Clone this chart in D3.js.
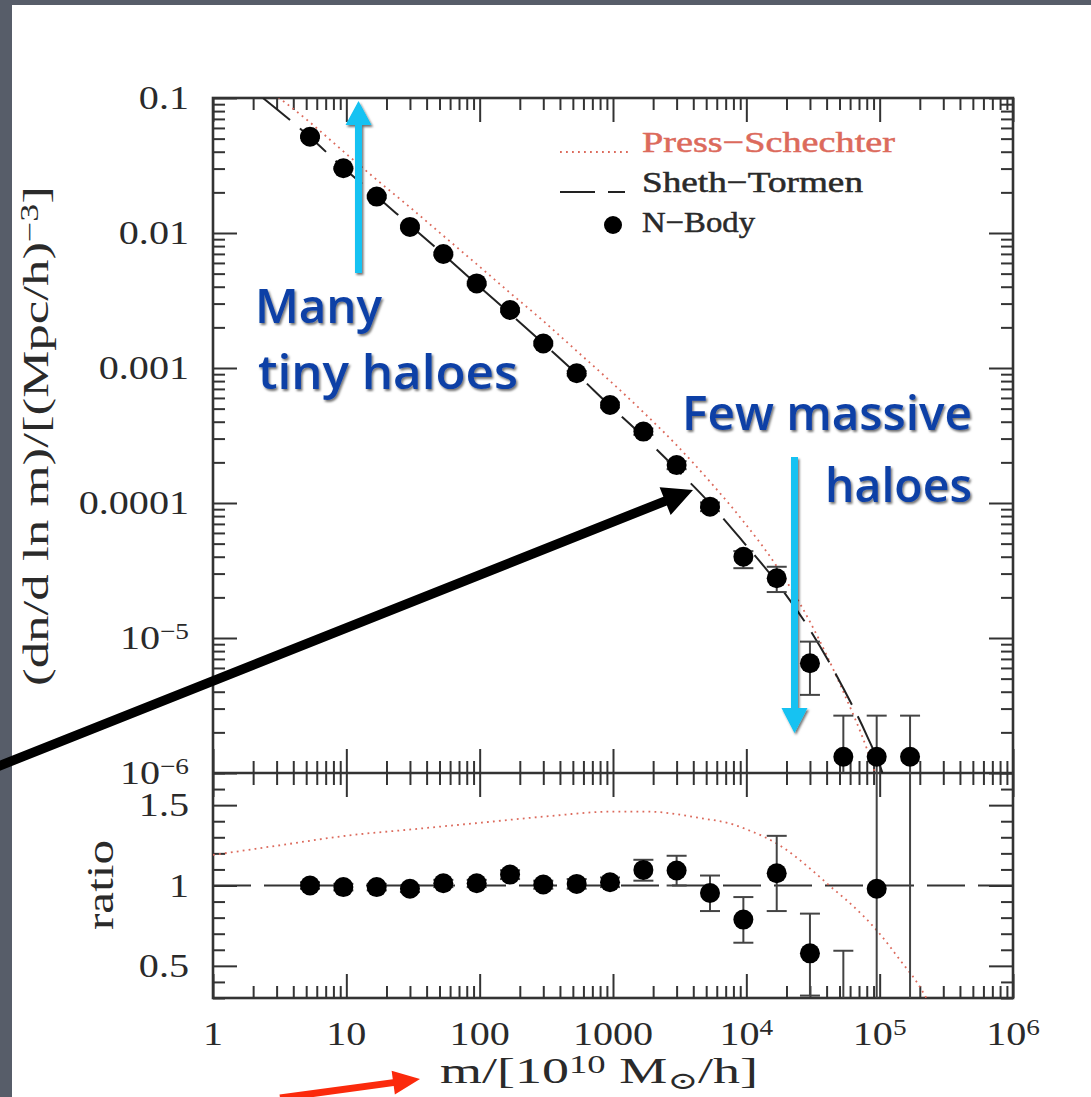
<!DOCTYPE html>
<html>
<head>
<meta charset="utf-8">
<script src="https://cdn.jsdelivr.net/npm/d3@7"></script>
<style>
  html, body { margin: 0; padding: 0; background: #575d69; }
  svg { display: block; }
</style>
</head>
<body>
<svg id="chart" width="1091" height="1097"></svg>
<script>
// ---------------- data ----------------
// halo mass bins (10^10 Msun/h)
const massBins = [5.34, 9.5, 16.9, 30, 53.4, 95, 169, 300, 534, 950, 1690, 3000,
                  5340, 9500, 16900, 30000, 53400, 95000, 169000];

// N-body mass function dn/dlnm and its error range
const nbodyDensity   = [0.0516, 0.0302, 0.0186, 0.0111, 0.00699, 0.00423, 0.00269, 0.00152,
                        0.000914, 0.000532, 0.000338, 0.000191, 9.4e-5, 4.0e-5, 2.77e-5,
                        6.5e-6, 1.32e-6, 1.32e-6, 1.32e-6];
const nbodyDensityLo = [0.0505, 0.0295, 0.0181, 0.0108, 0.0068, 0.0041, 0.0026, 0.00147,
                        0.00088, 0.00051, 0.00032, 0.000178, 8.7e-5, 3.29e-5, 2.19e-5,
                        3.79e-6, 0, 0, 0];
const nbodyDensityHi = [0.0527, 0.0309, 0.0191, 0.0114, 0.0072, 0.00436, 0.00278, 0.00157,
                        0.00095, 0.000555, 0.000356, 0.000204, 1.01e-4, 4.4e-5, 3.37e-5,
                        9.4e-6, 2.66e-6, 2.66e-6, 2.66e-6];

// N-body / Sheth-Tormen ratio and its error range
const nbodyRatio   = [1.0, 0.99, 0.99, 0.98, 1.014, 1.014, 1.068, 1.006, 1.01, 1.02,
                      1.097, 1.093, 0.953, 0.788, 1.076, 0.578, 0.2, 0.98, 4.0];
const nbodyRatioLo = [0.98, 0.97, 0.97, 0.96, 0.99, 0.99, 1.04, 0.98, 0.98, 0.99,
                      1.03, 1.0, 0.841, 0.644, 0.841, 0.315, 0, 0, 0];
const nbodyRatioHi = [1.02, 1.01, 1.01, 1.0, 1.035, 1.035, 1.095, 1.03, 1.04, 1.05,
                      1.16, 1.185, 1.062, 0.928, 1.309, 0.825, 0.594, 2.0, 8.0];

// Sheth-Tormen model
const stMass    = [2.37, 5.3, 9.4, 16.8, 30, 53, 94, 168, 300, 530, 940, 1680, 3000,
                   5300, 9400, 16800, 30000, 53000, 80000, 105000, 125000];
const stDensity = [0.1, 0.0516, 0.0307, 0.0188, 0.0114, 0.0070, 0.00421, 0.00254, 0.00152,
                   0.00091, 0.00053, 0.000312, 0.000178, 1.0e-4, 5.2e-5, 2.6e-5, 1.15e-5,
                   4.3e-6, 1.9e-6, 1.0e-6, 5.5e-7];

// Press-Schechter model
const psMass    = [1, 2.37, 5.3, 9.4, 16.8, 30, 53, 94, 168, 300, 530, 940, 1680, 3000,
                   5300, 9400, 16800, 30000, 53000, 80000, 105000];
const psDensity = [0.25, 0.1245, 0.0664, 0.0406, 0.0249, 0.0155, 0.0096, 0.00593, 0.00362,
                   0.00223, 0.001346, 0.000809, 0.000473, 0.000268, 0.000145, 7.41e-5,
                   3.43e-5, 1.32e-5, 4.06e-6, 1.52e-6, 6.8e-7];

// Press-Schechter / Sheth-Tormen
const ratioMass = [1, 3.16, 10, 31.6, 100, 316, 1000, 1780, 4470, 7940, 10000, 17800,
                   31600, 44700, 56200, 100000, 141000, 200000, 224000];
const psRatio   = [1.19, 1.25, 1.31, 1.35, 1.39, 1.43, 1.46, 1.46, 1.42, 1.38, 1.35, 1.25,
                   1.09, 0.98, 0.91, 0.70, 0.54, 0.37, 0.30];

// axes
const xTickValues   = [1, 10, 100, 1000, 1e4, 1e5, 1e6];
const xTickText     = ["1", "10", "100", "1000", "10^4", "10^5", "10^6"];
const yTopTickValues = [0.1, 0.01, 0.001, 0.0001, 1e-5, 1e-6];
const yTopTickText   = ["0.1", "0.01", "0.001", "0.0001", "10^−5", "10^−6"];
const yBotTickValues = [0.5, 1, 1.5];
const yBotTickText   = ["0.5", "1", "1.5"];
const legendLabels   = ["Press−Schechter", "Sheth−Tormen", "N−Body"];

// ---------------- layout ----------------
const L = 213, R = 1013, TOP = 98, MID = 773, BOT = 998;
const INK = "#333";
const PS_COLOR = "#dc6a5c";
const SERIF = "'Liberation Serif', 'DejaVu Serif', serif";

const x = d3.scaleLog().domain([1, 1e6]).range([L, R]);
const yTop = d3.scaleLog().domain([1e-6, 0.1]).range([MID, TOP]);
const yBot = d3.scaleLinear().domain([0.3, 1.7]).range([BOT, MID]);

const svg = d3.select("#chart");
const defs = svg.append("defs");
defs.append("clipPath").attr("id", "clipTop")
  .append("rect").attr("x", L).attr("y", TOP).attr("width", R - L).attr("height", MID - TOP);
defs.append("clipPath").attr("id", "clipBot")
  .append("rect").attr("x", L).attr("y", MID).attr("width", R - L).attr("height", BOT - MID);
const shadow = defs.append("filter").attr("id", "shadow")
  .attr("x", "-20%").attr("y", "-20%").attr("width", "140%").attr("height", "140%");
shadow.append("feDropShadow").attr("dx", 1.5).attr("dy", 2).attr("stdDeviation", 1.2)
  .attr("flood-color", "#000").attr("flood-opacity", 0.55);

// slide page
svg.append("rect").attr("width", 1091).attr("height", 1097).attr("fill", "#575d69");
svg.append("rect").attr("x", 12).attr("y", 5).attr("width", 1079).attr("height", 1092).attr("fill", "#fff");

// ---------------- ticks ----------------
function minorLog(lo, hi) {
  const out = [];
  for (let e = lo; e < hi; e++) for (let j = 2; j <= 9; j++) out.push(j * Math.pow(10, e));
  return out;
}
const xMinor = minorLog(0, 6);
const yTopMinor = minorLog(-6, -1);
const yBotMinor = d3.range(3, 18).map(v => v / 10).filter(v => ![0.5, 1, 1.5].some(m => Math.abs(m - v) < 1e-9));

function drawTicks(axisFn, scale, values, len, transform) {
  svg.append("g").attr("transform", transform)
    .call(axisFn(scale).tickValues(values).tickSizeInner(-len).tickSizeOuter(0).tickFormat(""))
    .call(g => g.select(".domain").remove())
    .call(g => g.selectAll("text").remove())
    .call(g => g.selectAll("line").attr("stroke", INK).attr("stroke-width", 2));
}
// upper panel
drawTicks(d3.axisTop, x, xTickValues, 24, `translate(0,${TOP})`);
drawTicks(d3.axisTop, x, xMinor, 12, `translate(0,${TOP})`);
drawTicks(d3.axisBottom, x, xTickValues, 24, `translate(0,${MID})`);
drawTicks(d3.axisBottom, x, xMinor, 12, `translate(0,${MID})`);
drawTicks(d3.axisLeft, yTop, yTopTickValues, 24, `translate(${L},0)`);
drawTicks(d3.axisLeft, yTop, yTopMinor, 12, `translate(${L},0)`);
drawTicks(d3.axisRight, yTop, yTopTickValues, 24, `translate(${R},0)`);
drawTicks(d3.axisRight, yTop, yTopMinor, 12, `translate(${R},0)`);
// lower panel
drawTicks(d3.axisTop, x, xTickValues, 24, `translate(0,${MID})`);
drawTicks(d3.axisTop, x, xMinor, 12, `translate(0,${MID})`);
drawTicks(d3.axisBottom, x, xTickValues, 24, `translate(0,${BOT})`);
drawTicks(d3.axisBottom, x, xMinor, 12, `translate(0,${BOT})`);
drawTicks(d3.axisLeft, yBot, yBotTickValues, 24, `translate(${L},0)`);
drawTicks(d3.axisLeft, yBot, yBotMinor, 12, `translate(${L},0)`);
drawTicks(d3.axisRight, yBot, yBotTickValues, 24, `translate(${R},0)`);
drawTicks(d3.axisRight, yBot, yBotMinor, 12, `translate(${R},0)`);

// frames
svg.append("rect").attr("x", L).attr("y", TOP).attr("width", R - L).attr("height", BOT - TOP)
  .attr("fill", "none").attr("stroke", INK).attr("stroke-width", 2.6);
svg.append("line").attr("x1", L).attr("x2", R).attr("y1", MID).attr("y2", MID)
  .attr("stroke", INK).attr("stroke-width", 2.6);

// ---------------- tick labels ----------------
function writeLabel(text, str) {
  const [base, sup] = str.split("^");
  text.append("tspan").text(base);
  if (sup) text.append("tspan").attr("dy", "-0.42em").style("font-size", "0.68em").text(sup);
}
const labelStyle = sel => sel.attr("font-family", SERIF).attr("font-size", 34).attr("fill", "#2a2a2a");

xTickValues.forEach((v, i) => {
  const g = svg.append("g").attr("transform", `translate(${x(v)},1045) scale(1.18,1)`);
  const t = g.append("text").attr("text-anchor", "middle").call(labelStyle);
  writeLabel(t, xTickText[i]);
});
yTopTickValues.forEach((v, i) => {
  const g = svg.append("g").attr("transform", `translate(189,${yTop(v) + 11}) scale(1.18,1)`);
  const t = g.append("text").attr("text-anchor", "end").call(labelStyle);
  writeLabel(t, yTopTickText[i]);
});
yBotTickValues.forEach((v, i) => {
  const g = svg.append("g").attr("transform", `translate(189,${yBot(v) + 11}) scale(1.18,1)`);
  const t = g.append("text").attr("text-anchor", "end").call(labelStyle);
  writeLabel(t, yBotTickText[i]);
});

// axis titles
const yTitle = svg.append("text")
  .attr("transform", "translate(48,436) rotate(-90)")
  .attr("text-anchor", "middle").attr("font-family", SERIF).attr("font-size", 36).attr("fill", "#2a2a2a")
  .attr("textLength", 500).attr("lengthAdjust", "spacingAndGlyphs");
yTitle.append("tspan").text("(dn/d ln m)/[(Mpc/h)");
yTitle.append("tspan").attr("dy", "-0.42em").style("font-size", "0.68em").text("−3");
yTitle.append("tspan").attr("dy", "0.29em").text("]");

svg.append("text")
  .attr("transform", "translate(113,885) rotate(-90)")
  .attr("text-anchor", "middle").attr("font-family", SERIF).attr("font-size", 38).attr("fill", "#2a2a2a")
  .attr("textLength", 90).attr("lengthAdjust", "spacingAndGlyphs")
  .text("ratio");

const xTitle = svg.append("text")
  .attr("x", 440).attr("y", 1083)
  .attr("font-family", SERIF).attr("font-size", 36).attr("fill", "#2a2a2a")
  .attr("textLength", 318).attr("lengthAdjust", "spacingAndGlyphs");
xTitle.append("tspan").text("m/[10");
xTitle.append("tspan").attr("dy", "-0.42em").style("font-size", "0.68em").text("10");
xTitle.append("tspan").attr("dy", "0.29em").text(" M");
xTitle.append("tspan").attr("dy", "0.22em").style("font-size", "0.68em").text("⊙");
xTitle.append("tspan").attr("dy", "-0.15em").text("/h]");

// ---------------- upper panel: mass function ----------------
const upper = svg.append("g").attr("clip-path", "url(#clipTop)");
const lineTop = d3.line().x(d => x(d[0])).y(d => yTop(d[1])).curve(d3.curveMonotoneX);

upper.append("path").datum(d3.zip(psMass, psDensity)).attr("d", lineTop)
  .attr("fill", "none").attr("stroke", PS_COLOR).attr("stroke-width", 1.8)
  .attr("stroke-dasharray", "1.8,4.2");
upper.append("path").datum(d3.zip(stMass, stDensity)).attr("d", lineTop)
  .attr("fill", "none").attr("stroke", "#222").attr("stroke-width", 2)
  .attr("stroke-dasharray", "35,13");

const safeTop = v => yTop(Math.max(v, 1e-9));
const nb = massBins.map((m, i) => ({ m, v: nbodyDensity[i], lo: nbodyDensityLo[i], hi: nbodyDensityHi[i] }));
const eTop = upper.append("g").attr("stroke", "#444").attr("stroke-width", 2);
eTop.selectAll("line.bar").data(nb).join("line").attr("class", "bar")
  .attr("x1", d => x(d.m)).attr("x2", d => x(d.m))
  .attr("y1", d => safeTop(d.hi)).attr("y2", d => safeTop(d.lo));
eTop.selectAll("line.capHi").data(nb).join("line").attr("class", "capHi")
  .attr("x1", d => x(d.m) - 10).attr("x2", d => x(d.m) + 10)
  .attr("y1", d => safeTop(d.hi)).attr("y2", d => safeTop(d.hi));
eTop.selectAll("line.capLo").data(nb.filter(d => d.lo > 0)).join("line").attr("class", "capLo")
  .attr("x1", d => x(d.m) - 10).attr("x2", d => x(d.m) + 10)
  .attr("y1", d => safeTop(d.lo)).attr("y2", d => safeTop(d.lo));
upper.selectAll("circle").data(nb).join("circle")
  .attr("cx", d => x(d.m)).attr("cy", d => yTop(d.v)).attr("r", 10).attr("fill", "#000");

// legend
const legend = svg.append("g");
legend.append("line").attr("x1", 560).attr("x2", 628).attr("y1", 152).attr("y2", 152)
  .attr("stroke", PS_COLOR).attr("stroke-width", 1.8).attr("stroke-dasharray", "1.8,4.2");
legend.append("line").attr("x1", 560).attr("x2", 625).attr("y1", 192).attr("y2", 192)
  .attr("stroke", "#222").attr("stroke-width", 2).attr("stroke-dasharray", "35,13");
legend.append("circle").attr("cx", 613).attr("cy", 225).attr("r", 9).attr("fill", "#000");
const legendColors = [PS_COLOR, "#2a2a2a", "#2a2a2a"];
const legendWidths = [253, 221, 113];
legendLabels.forEach((s, i) => {
  legend.append("text").attr("x", 642).attr("y", 152 + 40 * i)
    .attr("font-family", SERIF).attr("font-size", 30)
    .attr("fill", legendColors[i]).attr("stroke", legendColors[i]).attr("stroke-width", 0.5)
    .attr("textLength", legendWidths[i]).attr("lengthAdjust", "spacingAndGlyphs")
    .text(s);
});

// ---------------- lower panel: ratio ----------------
const lower = svg.append("g").attr("clip-path", "url(#clipBot)");
const lineBot = d3.line().x(d => x(d[0])).y(d => yBot(d[1])).curve(d3.curveMonotoneX);

lower.append("line").attr("x1", L).attr("x2", R).attr("y1", yBot(1)).attr("y2", yBot(1))
  .attr("stroke", "#333").attr("stroke-width", 2.2).attr("stroke-dasharray", "38,13");
lower.append("path").datum(d3.zip(ratioMass, psRatio)).attr("d", lineBot)
  .attr("fill", "none").attr("stroke", PS_COLOR).attr("stroke-width", 1.8)
  .attr("stroke-dasharray", "1.8,4.2");

const nr = massBins.map((m, i) => ({ m, v: nbodyRatio[i], lo: nbodyRatioLo[i], hi: nbodyRatioHi[i] }));
const eBot = lower.append("g").attr("stroke", "#444").attr("stroke-width", 2);
eBot.selectAll("line.bar").data(nr).join("line").attr("class", "bar")
  .attr("x1", d => x(d.m)).attr("x2", d => x(d.m))
  .attr("y1", d => yBot(d.hi)).attr("y2", d => yBot(d.lo));
eBot.selectAll("line.capHi").data(nr).join("line").attr("class", "capHi")
  .attr("x1", d => x(d.m) - 10).attr("x2", d => x(d.m) + 10)
  .attr("y1", d => yBot(d.hi)).attr("y2", d => yBot(d.hi));
eBot.selectAll("line.capLo").data(nr.filter(d => d.lo > 0)).join("line").attr("class", "capLo")
  .attr("x1", d => x(d.m) - 10).attr("x2", d => x(d.m) + 10)
  .attr("y1", d => yBot(d.lo)).attr("y2", d => yBot(d.lo));
lower.selectAll("circle").data(nr).join("circle")
  .attr("cx", d => x(d.m)).attr("cy", d => yBot(d.v)).attr("r", 10).attr("fill", "#000");

// ---------------- slide annotations ----------------
function arrowPath(x0, y0, x1, y1, shaft, headLen, headHalf) {
  const dx = x1 - x0, dy = y1 - y0, len = Math.hypot(dx, dy);
  const ux = dx / len, uy = dy / len, nx = -uy, ny = ux;
  const bx = x1 - ux * headLen, by = y1 - uy * headLen;
  const h = shaft / 2;
  const p = [
    [x0 + nx * h, y0 + ny * h], [bx + nx * h, by + ny * h], [bx + nx * headHalf, by + ny * headHalf],
    [x1, y1], [bx - nx * headHalf, by - ny * headHalf], [bx - nx * h, by - ny * h], [x0 - nx * h, y0 - ny * h]
  ];
  return "M" + p.map(q => q.join(",")).join("L") + "Z";
}

const notes = svg.append("g");
// long black pointer to the Sheth-Tormen curve
notes.append("path").attr("d", arrowPath(-6, 768, 693, 490, 9.5, 30, 15)).attr("fill", "#000");
// cyan direction arrows
notes.append("path").attr("d", arrowPath(358.5, 273, 358.5, 101, 7, 24, 13))
  .attr("fill", "#12c2f2").attr("filter", "url(#shadow)");
notes.append("path").attr("d", arrowPath(794.5, 457, 794.5, 733, 7, 25, 13))
  .attr("fill", "#12c2f2").attr("filter", "url(#shadow)");
// red pointer to the mass axis
notes.append("path").attr("d", arrowPath(280, 1098, 420, 1079, 7, 27, 12)).attr("fill", "#fb2a0c");

const NOTE_FONT = "'Open Sans', 'Lato', sans-serif";
const noteText = [
  { s: "Many", x: 255, y: 323, w: 127 },
  { s: "tiny haloes", x: 258, y: 389, w: 260 },
  { s: "Few massive", x: 682, y: 430, w: 290 },
  { s: "haloes", x: 825, y: 502, w: 147 }
];
noteText.forEach(d => {
  notes.append("text").attr("x", d.x).attr("y", d.y)
    .attr("font-family", NOTE_FONT).attr("font-size", 47).attr("font-weight", 600)
    .attr("fill", "#0c3fa6").attr("filter", "url(#shadow)")
    .attr("textLength", d.w).attr("lengthAdjust", "spacingAndGlyphs")
    .text(d.s);
});
</script>
</body>
</html>
